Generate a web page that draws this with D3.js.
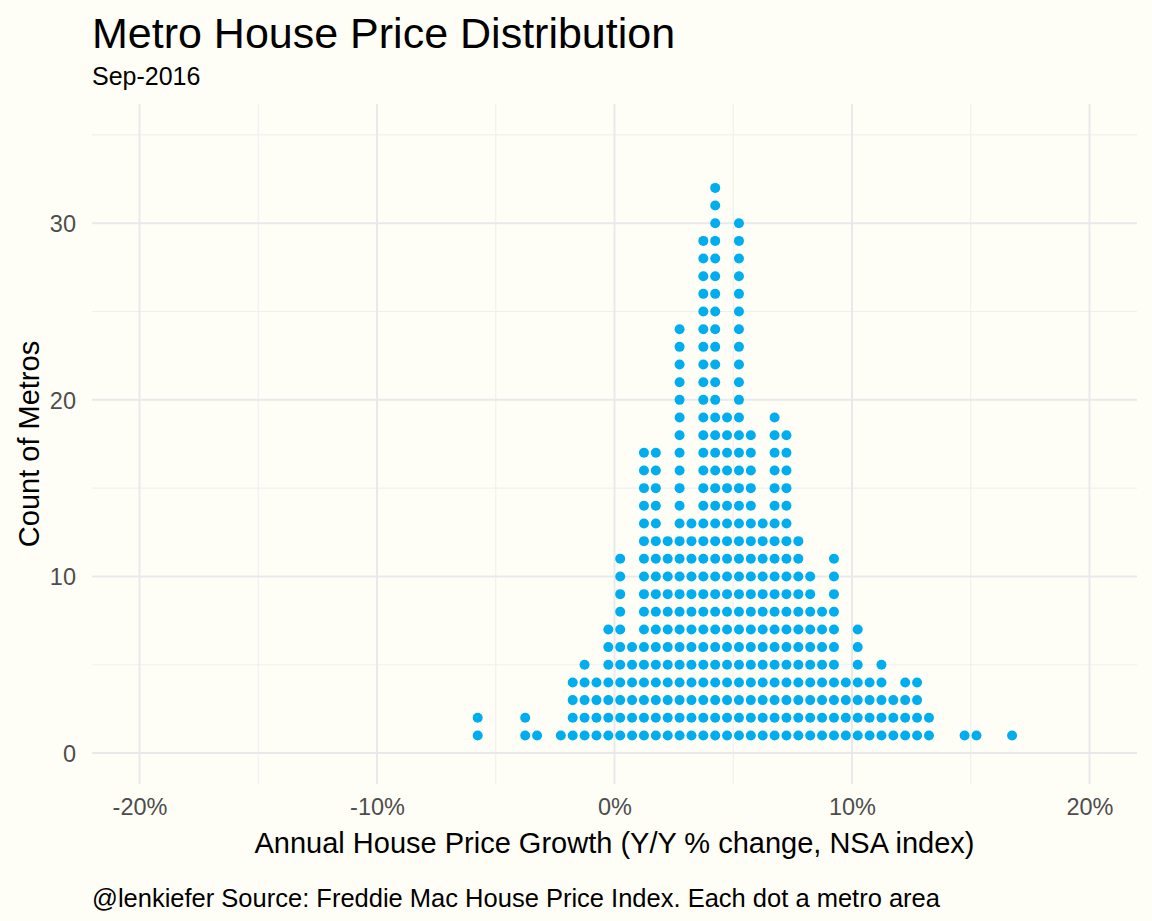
<!DOCTYPE html>
<html>
<head>
<meta charset="utf-8">
<script src="https://cdn.jsdelivr.net/npm/d3@7"></script>
<style>
  body { margin: 0; background: #fffef6; }
  svg { display: block; }
</style>
</head>
<body>
<svg id="chart"></svg>
<script>
// Y/Y growth (%) of each dot column, and how many metros fall in it
const binGrowth = [-5.76, -3.76, -3.26, -2.26, -1.76, -1.26, -0.76, -0.26, 0.24, 0.74,
  1.24, 1.74, 2.24, 2.74, 3.24, 3.74, 4.24, 4.74, 5.24, 5.74,
  6.24, 6.74, 7.24, 7.74, 8.24, 8.74, 9.24, 9.74, 10.24, 10.74,
  11.24, 11.74, 12.24, 12.74, 13.24, 14.74, 15.24, 16.74];
const binCounts = [2, 2, 1, 1, 4, 5, 4, 7, 11, 6,
  17, 17, 12, 24, 13, 29, 32, 19, 30, 18,
  13, 19, 18, 12, 10, 8, 11, 4, 7, 4,
  5, 3, 4, 4, 2, 1, 1, 1];

const xTicks = [-20, -10, 0, 10, 20];
const xMinor = [-15, -5, 5, 15];
const yTicks = [0, 10, 20, 30];
const yMinor = [5, 15, 25, 35];

const titleText = 'Metro House Price Distribution';
const subtitleText = 'Sep-2016';
const xTitle = 'Annual House Price Growth (Y/Y % change, NSA index)';
const yTitle = 'Count of Metros';
const captionText = '@lenkiefer Source: Freddie Mac House Price Index. Each dot a metro area';

const W = 1152, H = 921;
const panel = { left: 92, right: 1137, top: 104, bottom: 784 };
const font = '"Liberation Sans", Arial, sans-serif';

const svg = d3.select('#chart')
  .attr('width', W)
  .attr('height', H)
  .style('font-family', font);

svg.append('rect')
  .attr('width', W)
  .attr('height', H)
  .attr('fill', '#fffef6');

const x = d3.scaleLinear()
  .domain([-22, 22])
  .range([panel.left, panel.right]);

const y = d3.scaleLinear()
  .domain([-1.75, 36.75])
  .range([panel.bottom, panel.top]);

// grid, minor first then major
const grid = svg.append('g');
grid.selectAll('.xminor')
  .data(xMinor).enter().append('line')
  .attr('x1', d => x(d)).attr('x2', d => x(d))
  .attr('y1', panel.top).attr('y2', panel.bottom)
  .attr('stroke', '#efeff0').attr('stroke-width', 1.1);
grid.selectAll('.yminor')
  .data(yMinor).enter().append('line')
  .attr('x1', panel.left).attr('x2', panel.right)
  .attr('y1', d => y(d)).attr('y2', d => y(d))
  .attr('stroke', '#efeff0').attr('stroke-width', 1.1);
grid.selectAll('.xmajor')
  .data(xTicks).enter().append('line')
  .attr('x1', d => x(d)).attr('x2', d => x(d))
  .attr('y1', panel.top).attr('y2', panel.bottom)
  .attr('stroke', '#e9e9ec').attr('stroke-width', 2);
grid.selectAll('.ymajor')
  .data(yTicks).enter().append('line')
  .attr('x1', panel.left).attr('x2', panel.right)
  .attr('y1', d => y(d)).attr('y2', d => y(d))
  .attr('stroke', '#e9e9ec').attr('stroke-width', 2);

// axes with no domain line / ticks, labels only
const xAxis = svg.append('g')
  .attr('transform', `translate(0,${panel.bottom})`)
  .call(d3.axisBottom(x).tickValues(xTicks).tickSize(0).tickPadding(0).tickFormat(d => d + '%'));
xAxis.select('.domain').remove();
xAxis.selectAll('text')
  .attr('y', 31)
  .attr('dy', 0)
  .attr('fill', '#4d4d4d')
  .style('font-family', font)
  .style('font-size', '23.5px');

const yAxis = svg.append('g')
  .attr('transform', `translate(${panel.left},0)`)
  .call(d3.axisLeft(y).tickValues(yTicks).tickSize(0).tickPadding(0));
yAxis.select('.domain').remove();
yAxis.selectAll('text')
  .attr('x', -16)
  .attr('dy', '0.36em')
  .attr('fill', '#4d4d4d')
  .style('font-family', font)
  .style('font-size', '23.5px');

// expand each column into stacked dots
const dots = [];
binGrowth.forEach((g, i) => {
  for (let n = 1; n <= binCounts[i]; n++) dots.push({ growth: g, n: n });
});

svg.append('g')
  .selectAll('circle')
  .data(dots)
  .enter().append('circle')
  .attr('cx', d => x(d.growth))
  .attr('cy', d => y(d.n))
  .attr('r', 5)
  .attr('fill', '#00aeef');

// titles
svg.append('text')
  .attr('x', 92).attr('y', 48)
  .attr('font-size', 43)
  .attr('fill', '#000')
  .text(titleText);

svg.append('text')
  .attr('x', 92).attr('y', 85)
  .attr('font-size', 25)
  .attr('fill', '#000')
  .text(subtitleText);

svg.append('text')
  .attr('x', (panel.left + panel.right) / 2).attr('y', 853)
  .attr('text-anchor', 'middle')
  .attr('font-size', 29)
  .attr('fill', '#000')
  .text(xTitle);

svg.append('text')
  .attr('transform', `translate(39,${(panel.top + panel.bottom) / 2}) rotate(-90)`)
  .attr('text-anchor', 'middle')
  .attr('font-size', 29)
  .attr('fill', '#000')
  .text(yTitle);

svg.append('text')
  .attr('x', 92).attr('y', 907)
  .attr('font-size', 25.5)
  .attr('fill', '#000')
  .text(captionText);
</script>
</body>
</html>
